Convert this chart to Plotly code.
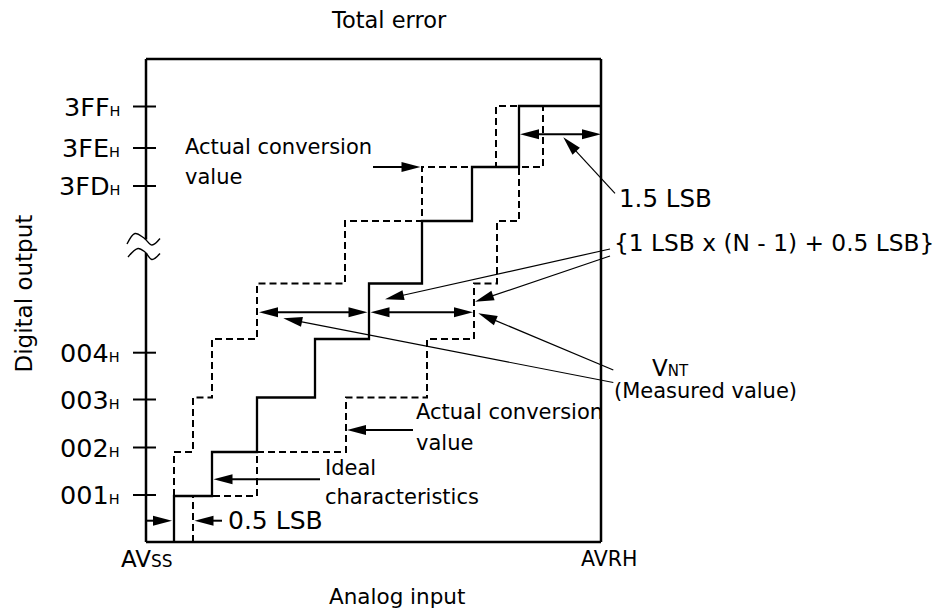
import math
import plotly.graph_objects as go

# ---------------------------------------------------------------
# Diagram units: analog input runs from AVss = 0 to AVRH = 455,
# digital output runs from 0 (bottom of frame) to 483 (top of frame)
# ---------------------------------------------------------------
X_AVSS, X_AVRH = 0, 455
Y_BOTTOM, Y_TOP = 0, 483

# output code levels reached by the staircases
LEVELS = [46, 90, 144.5, 203, 258.5, 321, 375, 436]

# ideal characteristics (solid staircase)
IDEAL_X = [28, 28, 66, 111, 169, 223, 276, 326, 373, 455]
IDEAL_Y = [0] + LEVELS + [LEVELS[-1]]

# actual conversion value, upper limit (dashed, left)
UPPER_X = [28, 28, 47, 66, 111, 199, 276, 350, 373]
UPPER_Y = LEVELS + [LEVELS[-1]]

# actual conversion value, lower limit (dashed, right)
LOWER_X = [47, 47, 111, 200, 281, 328, 351, 373, 397]
LOWER_Y = [0] + LEVELS

# y-axis ticks
TICK_LABELS = ["001", "002", "003", "004", "3FD", "3FE", "3FF"]
TICK_Y = [47, 94.5, 142.5, 189.3, 356, 394, 435.5]

# axis break (lower segment ends / upper segment starts)
BREAK_LOW, BREAK_HIGH = 289, 302.5
WAVE_UP_X = [-19, -11, -2, 6, 14]
WAVE_UP_Y = [298, 308.5, 304, 297, 303.5]
WAVE_LO_X = [-18, -8, -1, 6, 14]
WAVE_LO_Y = [285, 293.5, 290, 282.5, 288.5]

FONT = "DejaVu Sans"
BLACK = "#000000"

fig = go.Figure()

# staircases
fig.add_trace(go.Scatter(x=UPPER_X, y=UPPER_Y, mode="lines", line_shape="hv",
                         line=dict(color=BLACK, width=2, dash="7px,4px"),
                         hoverinfo="skip", showlegend=False))
fig.add_trace(go.Scatter(x=LOWER_X, y=LOWER_Y, mode="lines", line_shape="hv",
                         line=dict(color=BLACK, width=2, dash="7px,4px"),
                         hoverinfo="skip", showlegend=False))
fig.add_trace(go.Scatter(x=IDEAL_X, y=IDEAL_Y, mode="lines", line_shape="hv",
                         line=dict(color=BLACK, width=2.3),
                         hoverinfo="skip", showlegend=False))

# break waves
for wx, wy in ((WAVE_UP_X, WAVE_UP_Y), (WAVE_LO_X, WAVE_LO_Y)):
    fig.add_trace(go.Scatter(x=wx, y=wy, mode="lines", line_shape="spline",
                             line=dict(color=BLACK, width=1.4),
                             hoverinfo="skip", showlegend=False))

shapes = []


def seg(x0, y0, x1, y1, w):
    shapes.append(dict(type="line", xref="x", yref="y", x0=x0, y0=y0, x1=x1, y1=y1,
                       line=dict(color=BLACK, width=w)))


def head(tx, ty, fx, fy, L=19, W=5):
    dx, dy = tx - fx, ty - fy
    n = math.hypot(dx, dy)
    ux, uy = dx / n, dy / n
    bx, by = tx - ux * L, ty - uy * L
    px, py = -uy * W, ux * W
    path = (f"M{tx},{ty} L{bx + px},{by + py} L{bx - px},{by - py} Z")
    shapes.append(dict(type="path", xref="x", yref="y", path=path,
                       fillcolor=BLACK, line=dict(width=0)))
    return bx + ux * 4, by + uy * 4


def arrow(x0, y0, x1, y1, w=2):
    """line from (x0,y0) with arrowhead at (x1,y1)"""
    ex, ey = head(x1, y1, x0, y0)
    seg(x0, y0, ex, ey, w)


def double_arrow(x0, y0, x1, y1, w=2):
    sx, sy = head(x0, y0, x1, y1)
    ex, ey = head(x1, y1, x0, y0)
    seg(sx, sy, ex, ey, w)


# frame
seg(X_AVSS, Y_BOTTOM, X_AVRH, Y_BOTTOM, 2.5)
seg(X_AVRH, Y_BOTTOM, X_AVRH, Y_TOP, 2.5)
seg(X_AVSS, Y_TOP, X_AVRH, Y_TOP, 2.5)
seg(X_AVSS, Y_BOTTOM, X_AVSS, BREAK_LOW, 2.5)
seg(X_AVSS, BREAK_HIGH, X_AVSS, Y_TOP, 2.5)

# tick marks crossing the axis
for ty in TICK_Y:
    seg(-13, ty, 10, ty, 2)

# dimension arrows
double_arrow(113, 229.7, 221.5, 229.7)
double_arrow(224.5, 229.7, 327, 229.7)
double_arrow(374, 407.7, 455, 407.7)

arrow(227, 375, 274.5, 375)            # upper actual conversion value
arrow(267, 112, 201, 112)              # lower actual conversion value
arrow(174, 62.7, 67.5, 62.7)           # ideal characteristics
arrow(0, 21.3, 26, 21.3)               # 0.5 LSB (left)
arrow(76, 21.3, 48.5, 21.3)            # 0.5 LSB (right)

# leader lines
arrow(469, 348.7, 417.3, 404.7, 1.2)   # 1.5 LSB
arrow(464, 293, 239, 242.7, 1.2)       # {1 LSB x (N-1) + 0.5 LSB}
arrow(464, 286, 329, 240.3, 1.2)
arrow(467.3, 172, 332.3, 228.7, 1.2)   # VNT
arrow(467.3, 159.5, 137.3, 223.7, 1.2) # measured value

annotations = []


def label(text, x, y, size, xanchor="left", angle=0):
    annotations.append(dict(text=text, x=x, y=y, xref="x", yref="y",
                            showarrow=False, xanchor=xanchor, yanchor="middle",
                            textangle=angle, borderpad=0,
                            font=dict(family=FONT, size=size, color=BLACK)))


def small(t, s):
    return f'<span style="font-size:{s}px">{t}</span>'


label("Total error", 243, 522.5, 22.5, "center")
label("Digital output", -123, 248.5, 23, "center", -90)
label("Analog input", 251, -54, 21.5, "center")
label("AV" + small("SS", 17), -26, -17, 23)
label("AVRH", 434, -17, 20.5)

for t, ty in zip(TICK_LABELS, TICK_Y):
    label(t + small("H", 14.5), -25, ty, 25.5, "right")

label("Actual conversion", 38.3, 395, 21)
label("value", 38.3, 365.5, 21)
label("Actual conversion", 269, 130, 21)
label("value", 269, 99, 21)
label("Ideal", 178.3, 73.7, 21)
label("characteristics", 178.3, 45.3, 21)
label("0.5 LSB", 81.3, 21.3, 25)
label("1.5 LSB", 472.3, 343.3, 24.5)
label("{1 LSB x (N - 1) + 0.5 LSB}", 467, 300, 23.3)
label("V" + small("NT", 15), 505, 174, 23)
label("(Measured value)", 467, 151, 21)

fig.update_layout(
    width=941, height=610,
    margin=dict(l=0, r=0, t=0, b=0),
    paper_bgcolor="white", plot_bgcolor="white",
    xaxis=dict(range=[-146, 795], visible=False, fixedrange=True),
    yaxis=dict(range=[-68, 542], visible=False, fixedrange=True),
    shapes=shapes, annotations=annotations,
    showlegend=False,
)

fig.write_html("out.html", config={"displayModeBar": False},
               post_script="document.body.style.margin='0';document.body.style.padding='0';")
